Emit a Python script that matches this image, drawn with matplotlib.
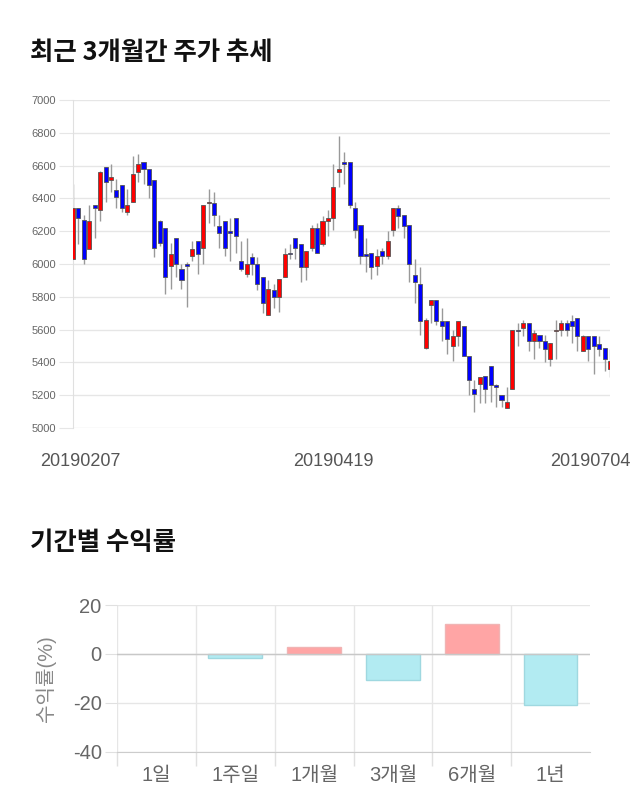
import numpy as np
import matplotlib
matplotlib.use("Agg")
import matplotlib.pyplot as plt

plt.rcParams['font.family'] = ['Liberation Sans', 'Noto Sans CJK KR']

# candle data
opens = [6030, 6340, 6270, 6090, 6360, 6330, 6590, 6510, 6450, 6480, 6320, 6380, 6560, 6620, 6580, 6510,
         6260, 6220, 5990, 6160, 5970, 6000, 6050, 6140,
         6100, 6370, 6370, 6230, 6260, 6200, 6280, 6020, 5940, 6040, 6000, 5920, 5690, 5840, 5800, 5920,
         6070, 6160, 6120, 5980, 6100, 6220, 6120, 6260,
         6280, 6560, 6620, 6620, 6340, 6240, 6060, 6070, 5990, 6080, 6050, 6210, 6340, 6300, 6240, 5930,
         5880, 5490, 5750, 5780, 5650, 5650, 5500, 5560,
         5620, 5440, 5240, 5270, 5320, 5380, 5260, 5200, 5120, 5240, 5600, 5610, 5640, 5530, 5570, 5530,
         5420, 5590, 5600, 5640, 5650, 5670, 5470, 5560, 5560, 5510, 5490, 5360]
highs = [6490, 6340, 6300, 6360, 6360, 6570, 6590, 6610, 6520, 6480, 6460, 6660, 6670, 6620, 6580, 6510,
         6270, 6220, 6130, 6160, 6000, 6010, 6140, 6140,
         6360, 6460, 6440, 6300, 6260, 6280, 6280, 6140, 6160, 6070, 6040, 5920, 5900, 5880, 5910, 6100,
         6120, 6160, 6120, 6080, 6240, 6250, 6290, 6330,
         6610, 6780, 6680, 6620, 6380, 6240, 6160, 6070, 6090, 6100, 6200, 6340, 6360, 6300, 6240, 6030,
         5980, 5670, 5780, 5780, 5730, 5650, 5600, 5650,
         5620, 5440, 5290, 5310, 5320, 5380, 5270, 5200, 5250, 5600, 5640, 5660, 5640, 5600, 5570, 5570,
         5520, 5660, 5660, 5660, 5690, 5670, 5570, 5560, 5560, 5560, 5490, 5480]
lows = [6030, 6120, 6000, 6090, 6160, 6260, 6380, 6440, 6340, 6320, 6300, 6380, 6500, 6490, 6400, 6040,
        6110, 5820, 5850, 5920, 5850, 5740, 6020, 5940,
        6000, 6250, 6230, 6100, 6050, 6020, 6070, 5960, 5920, 5930, 5840, 5700, 5690, 5730, 5710, 5920,
        6030, 6030, 5890, 5900, 6080, 6070, 6110, 6170,
        6210, 6470, 6490, 6340, 6160, 6000, 5950, 5910, 5930, 6000, 6030, 6170, 6220, 6160, 5890, 5760,
        5570, 5480, 5640, 5630, 5530, 5450, 5410, 5500,
        5440, 5200, 5100, 5150, 5150, 5160, 5130, 5130, 5120, 5240, 5500, 5560, 5470, 5420, 5490, 5400,
        5380, 5420, 5560, 5560, 5520, 5470, 5470, 5410, 5330, 5440, 5350, 5310]
closes = [6340, 6280, 6030, 6260, 6340, 6560, 6500, 6530, 6410, 6340, 6360, 6550, 6610, 6580, 6480, 6100,
          6130, 5920, 6060, 6000, 5900, 5990, 6090, 6060,
          6360, 6380, 6300, 6190, 6100, 6190, 6170, 5970, 6000, 6000, 5880, 5760, 5850, 5800, 5910, 6060,
          6060, 6100, 5980, 6080, 6220, 6070, 6260, 6280,
          6470, 6580, 6610, 6360, 6210, 6050, 6050, 5980, 6050, 6050, 6140, 6340, 6290, 6230, 6000, 5890,
          5650, 5660, 5780, 5650, 5620, 5540, 5560, 5650,
          5440, 5290, 5210, 5310, 5240, 5260, 5250, 5170, 5160, 5600, 5590, 5640, 5530, 5580, 5530, 5480,
          5520, 5600, 5640, 5600, 5620, 5560, 5560, 5480, 5500, 5480, 5420, 5410]
price_ticks = [5000, 5200, 5400, 5600, 5800, 6000, 6200, 6400, 6600, 6800, 7000]
date_labels = ["20190207", "20190419", "20190704"]
date_pos = [1.3, 48, 95.4]

# returns
periods = ["1일", "1주일", "1개월", "3개월", "6개월", "1년"]
returns = [0, -1.5, 2.7, -10.5, 12.1, -20.8]
return_ticks = [-40, -20, 0, 20]

fig = plt.figure(figsize=(6.4, 8.1), dpi=100)

fig.text(30 / 640, 1 - 52 / 810, "최근 3개월간 주가 추세", family='Noto Sans CJK KR',
         fontsize=18.3, fontweight='bold', va='center', ha='left', color='#111111')
fig.text(30 / 640, 1 - 543 / 810, "기간별 수익률", family='Noto Sans CJK KR',
         fontsize=18.3, fontweight='bold', va='center', ha='left', color='#111111')

# candle chart
ax = fig.add_axes([73 / 640, 1 - 428 / 810, 537 / 640, 328 / 810])
o = np.array(opens)
c = np.array(closes)
h = np.array(highs)
l = np.array(lows)
x = np.arange(len(o))
up = c >= o
cols = np.where(up, '#ff0000', '#0000ff')
ax.vlines(x, l, h, color='#999999', linewidth=1, zorder=2)
bottom = np.minimum(o, c)
height = np.maximum(np.abs(c - o), 8)
ax.bar(x, height, bottom=bottom, width=0.75, color=cols, edgecolor='#555555',
       linewidth=0.6, zorder=3)
ax.set_xlim(0, len(o) - 1)
ax.set_ylim(5000, 7000)
ax.set_yticks(price_ticks)
ax.set_yticklabels([str(v) for v in price_ticks], fontsize=8, color='#666666')
ax.tick_params(axis='y', length=10, color='#e6e6e6', pad=2)
ax.set_xticks(date_pos)
ax.set_xticklabels(date_labels, fontsize=13, color='#555555')
ax.tick_params(axis='x', length=0, pad=18)
ax.grid(axis='y', color='#e6e6e6', linewidth=1)
ax.set_axisbelow(True)
for s in ['top', 'right', 'bottom']:
    ax.spines[s].set_visible(False)
ax.spines['left'].set_color('#e0e0e0')

# returns chart
ax2 = fig.add_axes([117 / 640, 1 - 751.7 / 810, 473 / 640, 146.7 / 810])
bar_cols = ['#ffa5a5' if v > 0 else '#b2ebf2' for v in returns]
edge_cols = ['#f0b4b4' if v > 0 else '#9fd8e0' for v in returns]
lws = [1 if v != 0 else 0 for v in returns]
ax2.bar(np.arange(len(periods)), returns, width=0.68, color=bar_cols, edgecolor=edge_cols,
        linewidth=lws, zorder=3)
ax2.set_xlim(-0.5, len(periods) - 0.5)
ax2.set_ylim(-40, 20)
ax2.set_yticks(return_ticks)
ax2.set_yticklabels([str(v) for v in return_ticks], fontsize=14.5, color='#666666')
ax2.tick_params(axis='y', length=9, color='#e0e0e0', pad=2)
ax2.set_xticks(np.arange(len(periods)))
ax2.set_xticklabels(periods, fontsize=14.5, color='#666666')
ax2.set_xticks(np.arange(len(periods)) - 0.5, minor=True)
ax2.tick_params(axis='x', which='major', length=0, pad=10)
ax2.tick_params(axis='x', which='minor', length=10, color='#e0e0e0', width=1)
ax2.grid(axis='x', which='minor', color='#e6e6e6', linewidth=1)
ax2.grid(axis='y', color='#e6e6e6', linewidth=1)
ax2.axhline(0, color='#c8c8c8', linewidth=1, zorder=4)
ax2.set_axisbelow(True)
for s in ['top', 'right', 'left']:
    ax2.spines[s].set_visible(False)
ax2.spines['bottom'].set_color('#cccccc')
ax2.set_ylabel("수익률(%)", fontsize=14.5, color='#888888', labelpad=12)

fig.savefig("out.png", dpi=100)
